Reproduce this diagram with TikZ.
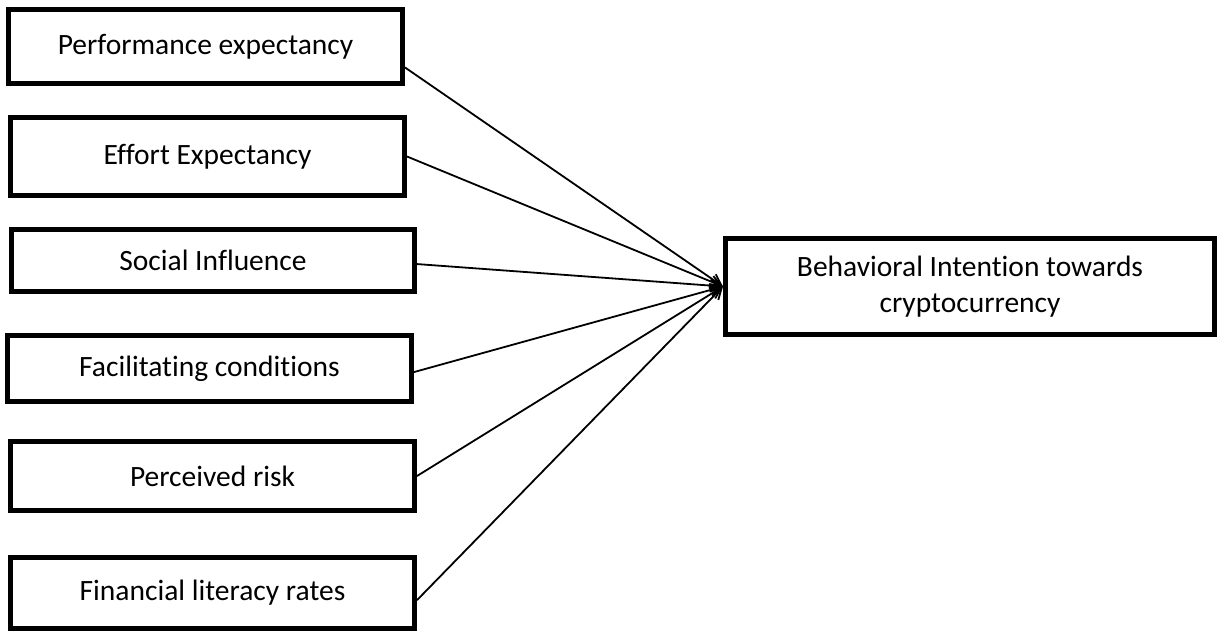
\documentclass[tikz,border=0pt]{standalone}
\usepackage{fontspec}
\setmainfont{Carlito}[Ligatures=NoCommon]
\usetikzlibrary{arrows.meta}

\begin{document}
\begin{tikzpicture}[
    x=1pt, y=-1pt,                          % <- one unit = one pixel of the page, y downwards
    factor/.style={draw=black, line width=5pt, inner sep=0pt, font=\fontsize{29.5}{35.5}\selectfont},
    outcome/.style={factor, align=center},
    link/.style={line width=1.8pt, -{Straight Barb[length=11pt,width=12pt]}},
  ]
  \useasboundingbox (0,0) rectangle (1223,631);

  % ---------- predictor boxes (centre, inner size) ----------
  \node[factor, minimum width=394pt, minimum height=74pt] (perf)   at (205.5,46.5) {Performance expectancy};
  \node[factor, minimum width=394pt, minimum height=78pt] (effort) at (207.5,156.5) {Effort Expectancy};
  \node[factor, minimum width=403pt, minimum height=62pt] (social) at (213,260.5) {Social Influence};
  \node[factor, minimum width=404pt, minimum height=66pt] (facil)  at (209.5,368.5) {Facilitating conditions};
  \node[factor, minimum width=404pt, minimum height=69pt] (risk)   at (212.5,476) {Perceived risk};
  \node[factor, minimum width=404pt, minimum height=71pt] (fin)    at (212.5,593) {Financial literacy rates};

  % ---------- outcome box ----------
  \node[outcome, minimum width=489pt, minimum height=96pt] (intent) at (970,286.5)
  {Behavioral Intention towards\\cryptocurrency};

  % ---------- paths into the outcome ----------
  \foreach \src/\ang in {perf/-6, effort/-0.5, social/-1.3, facil/-1, risk/0.3, fin/-2}
  \draw[link] (\src.\ang) -- (intent.west);

\end{tikzpicture}
\end{document}
